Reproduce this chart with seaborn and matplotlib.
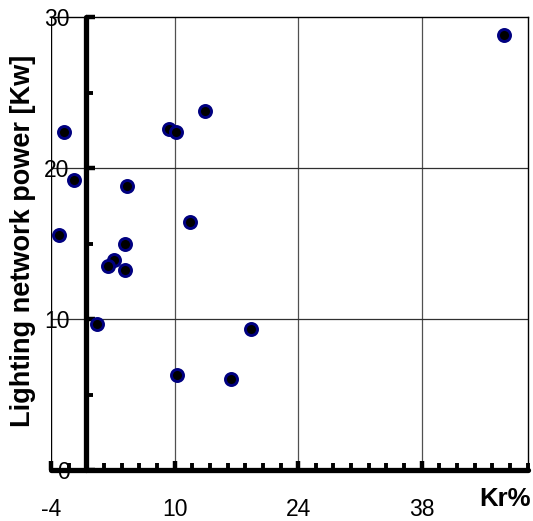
import matplotlib
matplotlib.use("Agg")
import matplotlib.pyplot as plt
import seaborn as sns
import pandas as pd
from matplotlib.ticker import MultipleLocator, FixedLocator

plt.rcParams['font.family'] = ['Liberation Sans', 'DejaVu Sans']

kr_percent = [-2.5, -1.4, -3.1, 4.6, 4.4, 3.1, 2.5, 4.4, 1.2, 9.35, 10.2, 13.5, 11.7, 10.3, 16.4, 18.6, 47.3]
power_kw = [22.4, 19.2, 15.6, 18.8, 15.0, 13.9, 13.5, 13.25, 9.65, 22.6, 22.4, 23.8, 16.45, 6.3, 6.0, 9.35, 28.85]
x_ticks = [-4, 10, 24, 38]
y_ticks = [0, 10, 20, 30]

df = pd.DataFrame({"Kr%": kr_percent, "P": power_kw})

fig = plt.figure(figsize=(5.33, 5.21), dpi=100)
ax = fig.add_axes([51/533, (521-470)/521, (527.7-51)/533, (470-17.3)/521])

for xv in [10, 24, 38]:
    ax.axvline(xv, color='#505050', lw=0.9, zorder=1)
for yv in [10, 20]:
    ax.axhline(yv, color='#303030', lw=0.9, zorder=1)
ax.axvline(-4, color='black', lw=1.0, zorder=1)

sns.scatterplot(data=df, x="Kr%", y="P", ax=ax, s=75, color='black',
                edgecolor='#000080', linewidth=2.1, zorder=5, clip_on=False)

ax.set_xlim(-4, 50)
ax.set_ylim(0, 30)

ax.spines['left'].set_position(('data', 0))
ax.spines['left'].set_linewidth(3.8)
ax.spines['left'].set_capstyle('round')
ax.spines['bottom'].set_linewidth(3.8)
ax.spines['bottom'].set_capstyle('round')
ax.spines['top'].set_linewidth(1.0)
ax.spines['right'].set_linewidth(1.0)
for s in ax.spines.values():
    s.set_zorder(4)

ax.xaxis.set_major_locator(FixedLocator(x_ticks))
ax.xaxis.set_minor_locator(MultipleLocator(2))
ax.yaxis.set_major_locator(FixedLocator(y_ticks))
ax.yaxis.set_minor_locator(MultipleLocator(5))
ax.set_xticklabels([str(v) for v in x_ticks])
ax.set_yticklabels([str(v) for v in y_ticks])

ax.tick_params(axis='x', which='major', direction='in', length=6.5, width=3.2, pad=20,
               labelsize=16.5, top=False)
ax.tick_params(axis='x', which='minor', direction='in', length=5, width=2.8, top=False)
ax.tick_params(axis='y', which='major', direction='in', length=6.5, width=3.2, pad=12,
               labelsize=16.5, right=False)
ax.tick_params(axis='y', which='minor', direction='in', length=5, width=2.8, right=False)

ax.set_xlabel("")
ax.set_ylabel("")

fig.text(23/533, 1 - 241/521, "Lighting network power [Kw]", rotation=90,
         ha='center', va='center', fontsize=19.5, fontweight='bold')
fig.text(505/533, 1 - 499/521, "Kr%", ha='center', va='center',
         fontsize=18.5, fontweight='bold')

fig.savefig("out.png", dpi=100)
